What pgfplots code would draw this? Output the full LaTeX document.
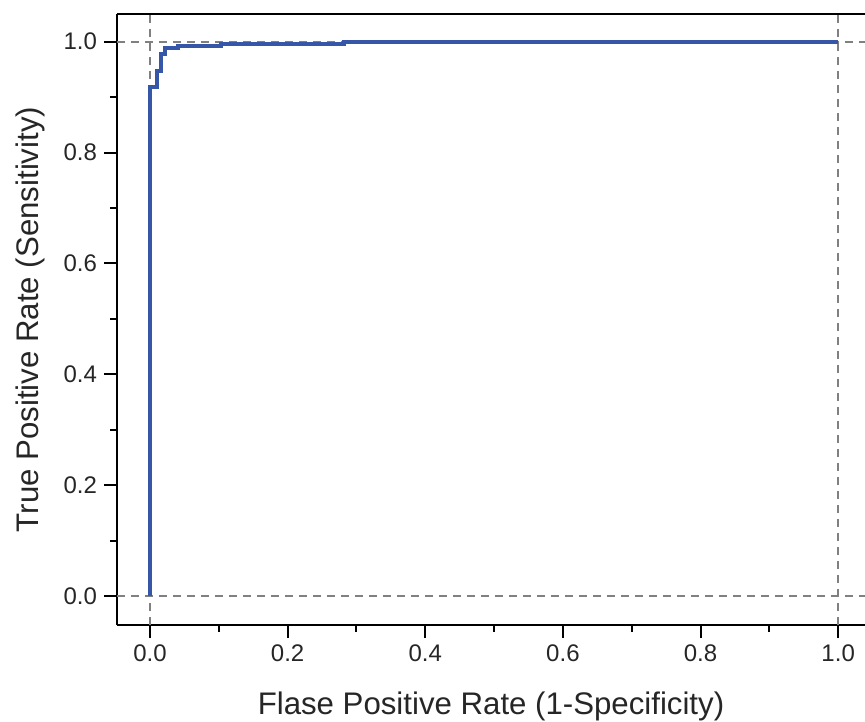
\documentclass[border=0pt]{standalone}
\usepackage{fontspec}
\setmainfont{Liberation Sans}
\usepackage{pgfplots}
\pgfplotsset{compat=1.18}
\definecolor{roc}{RGB}{54,86,168}
\definecolor{refgray}{RGB}{128,128,128}
\begin{document}
\begin{tikzpicture}
  \begin{axis}[
    scale only axis,
    width=374pt, height=305.5pt,
    xmin=-0.048, xmax=1.039,
    ymin=-0.052, ymax=1.05,
    clip=false,
    axis x line*=bottom, axis y line*=left,
    axis line style={line width=1pt, black, -},
    xtick={0,0.2,...,1.0}, ytick={0,0.2,...,1.0},
    minor tick num=1,
    tick align=outside,
    major tick length=6.5pt, minor tick length=3.5pt,
    every tick/.style={line width=1pt, black},
    /pgf/number format/assume math mode=true,
    /pgf/number format/.cd, fixed, fixed zerofill, precision=1, /pgfplots/.cd,
    tick label style={font=\fontsize{12}{14}\selectfont, text=black!85},
    label style={font=\fontsize{15.6}{18}\selectfont, text=black!85},
    xlabel={Flase Positive Rate (1-Specificity)},
    ylabel={True Positive Rate (Sensitivity)},
    xlabel style={at={(rel axis cs:0.5,-0.1326)}, anchor=center},
    ylabel style={at={(rel axis cs:-0.1163,0.5)}, anchor=center},
    extra x ticks={0,1}, extra y ticks={0,1},
    extra x tick labels={}, extra y tick labels={},
    extra tick style={grid=major, major tick length=0pt,
      major grid style={dashed, dash pattern=on 4pt off 3pt, line width=0.9pt, refgray}},
  ]
    \addplot[roc, line width=2pt, line join=miter] coordinates {
      (0,0) (0,0.919) (0.010,0.919) (0.010,0.948) (0.016,0.948)
      (0.016,0.978) (0.022,0.978) (0.022,0.989) (0.041,0.989)
      (0.041,0.993) (0.103,0.993) (0.103,0.995) (0.282,0.995)
      (0.282,1.0) (1.0,1.0)
    };
    \draw[line width=1pt, black] (rel axis cs:0,1) -- (rel axis cs:1,1);
    \coordinate (sw) at (rel axis cs:0,0);
    \coordinate (ne) at (rel axis cs:1,1);
  \end{axis}
  \pgfresetboundingbox
  \path[use as bounding box] ([shift={(-58.5pt,-48pt)}]sw) rectangle ([shift={(0pt,7pt)}]ne);
\end{tikzpicture}
\end{document}
